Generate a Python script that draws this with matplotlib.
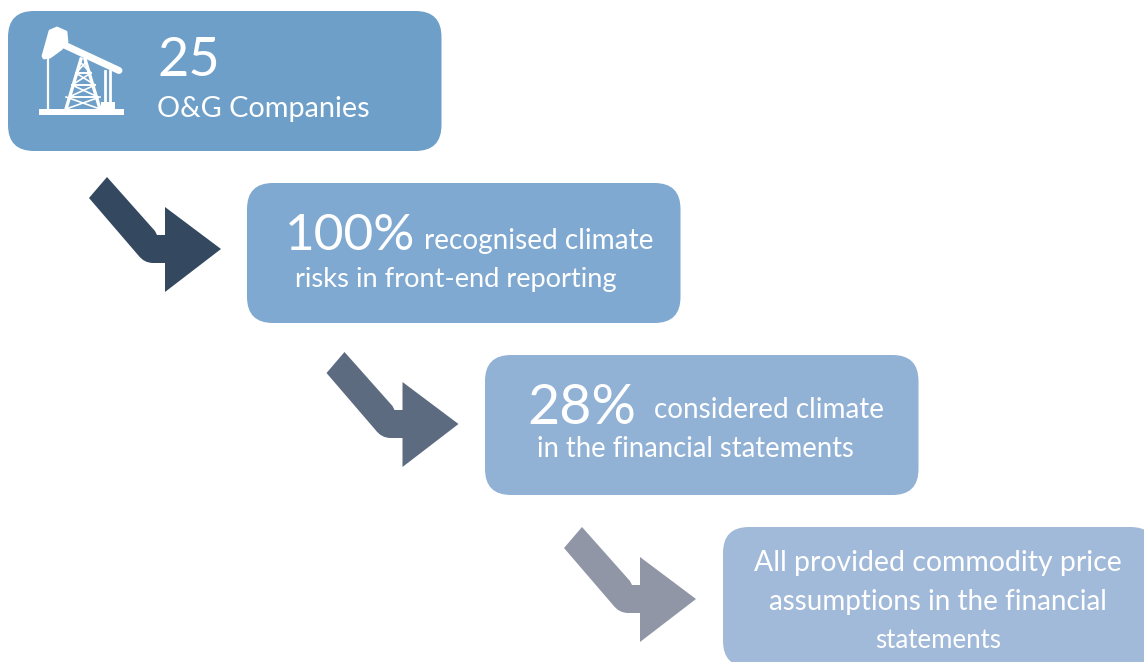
# -*- coding: utf-8 -*-
import matplotlib
matplotlib.use('Agg')
import matplotlib.pyplot as plt
from matplotlib.patches import FancyBboxPatch, PathPatch, Polygon, Rectangle
from matplotlib.path import Path

plt.rcParams['font.family'] = ['Lato', 'DejaVu Sans']

######################### Data #########################
box_lefts = [8, 247, 485, 723]
box_tops = [11, 183, 355, 527]
box_colors = ['#6d9fc8', '#7fa9d1', '#91b1d5', '#a2bad9']
arrow_colors = ['#34495f', '#5d6b81', '#9096a6']

# big number, then the text lines
big_labels = ['25', '100%', '28%']
big_xy = [(157, 57), (285, 232), (527, 405)]
big_sizes = [39, 37, 40]
small_labels = ['O&G Companies', 'recognised climate', 'risks in front-end reporting',
                'considered climate', 'in the financial statements']
small_xy = [(157, 107), (424, 239), (295, 277), (654, 408), (537, 447)]
small_sizes = [20.8, 20.2, 19.6, 20.1, 19.8]
last_lines = ['All provided commodity price', 'assumptions in the financial', 'statements']
last_y = [561, 600, 638]
last_sizes = [20.4, 20.0, 18.6]


######################### Shapes #########################
def draw_arrow(ax, dx, dy, col):
    verts = [(107, 177), (89, 198), (138, 255), (144, 263), (153, 263), (165, 263), (165, 292),
             (221, 249), (165, 207), (165, 235), (157, 235), (155, 231), (107, 177)]
    codes = [Path.MOVETO, Path.LINETO, Path.LINETO, Path.CURVE3, Path.CURVE3, Path.LINETO, Path.LINETO,
             Path.LINETO, Path.LINETO, Path.LINETO, Path.LINETO, Path.LINETO, Path.CLOSEPOLY]
    verts = [(x + dx, y + dy) for x, y in verts]
    ax.add_patch(PathPatch(Path(verts, codes), fc=col, ec='none', zorder=2))


def draw_pumpjack(ax):
    w = 'white'
    ax.add_patch(Rectangle((39, 109), 85, 6, fc=w, ec='none', zorder=3))
    # horse head and beam
    head = [(43, 56), (50, 31), (57, 28), (66, 32), (67, 42), (61, 49), (50, 57), (44, 58)]
    ax.add_patch(Polygon(head, closed=True, fc=w, ec=w, lw=2, joinstyle='round', zorder=3))
    ax.plot([60, 119], [43, 70.5], color=w, lw=5, solid_capstyle='round', zorder=3)
    # well rod
    ax.plot([48, 48], [56, 110], color=w, lw=1.6, zorder=3)
    # derrick
    ax.plot([81, 66], [59, 109], color=w, lw=2.4, zorder=3)
    ax.plot([85, 100], [59, 109], color=w, lw=2.4, zorder=3)
    rungs_y = [(73, 76, 91), (85, 72, 95), (97, 69, 98)]
    prev = (80, 86, 62)
    for y, xl, xr in rungs_y:
        ax.plot([xl, xr], [y, y], color=w, lw=1.4, zorder=3)
        ax.plot([prev[0], xr], [prev[2], y], color=w, lw=1.2, zorder=3)
        ax.plot([prev[1], xl], [prev[2], y], color=w, lw=1.2, zorder=3)
        prev = (xl, xr, y)
    ax.plot([66, 100], [109, 97], color=w, lw=1.2, zorder=3)
    ax.plot([100, 66], [109, 97], color=w, lw=1.2, zorder=3)
    # rear post
    ax.plot([105, 105], [71, 102], color=w, lw=2, zorder=3)
    ax.plot([110, 110], [71, 102], color=w, lw=2, zorder=3)
    ax.add_patch(Rectangle((101, 102), 14, 8, fc=w, ec='none', zorder=3))


######################### Plot #########################
fig = plt.figure(figsize=(11.44, 6.62), dpi=100)
ax = fig.add_axes([0, 0, 1, 1])
ax.set_xlim(0, 1144)
ax.set_ylim(662, 0)
ax.axis('off')

pad = 26
for x, y, col in zip(box_lefts, box_tops, box_colors):
    ax.add_patch(FancyBboxPatch((x + pad, y + pad), 433.5 - 2 * pad, 140 - 2 * pad,
                                boxstyle='round,pad=%d,rounding_size=%d' % (pad, pad),
                                fc=col, ec='none', zorder=1))

for i, col in enumerate(arrow_colors):
    draw_arrow(ax, 237.5 * i, 175 * i, col)

draw_pumpjack(ax)

for s, (x, y), fs in zip(big_labels, big_xy, big_sizes):
    ax.text(x, y + 4, s, color='white', fontsize=fs, ha='left', va='center', zorder=4)
for s, (x, y), fs in zip(small_labels, small_xy, small_sizes):
    ax.text(x, y + 2, s, color='white', fontsize=fs, ha='left', va='center', zorder=4)
for s, y, fs in zip(last_lines, last_y, last_sizes):
    ax.text(938, y + 2, s, color='white', fontsize=fs, ha='center', va='center', zorder=4)

fig.savefig('out.png', dpi=100)
